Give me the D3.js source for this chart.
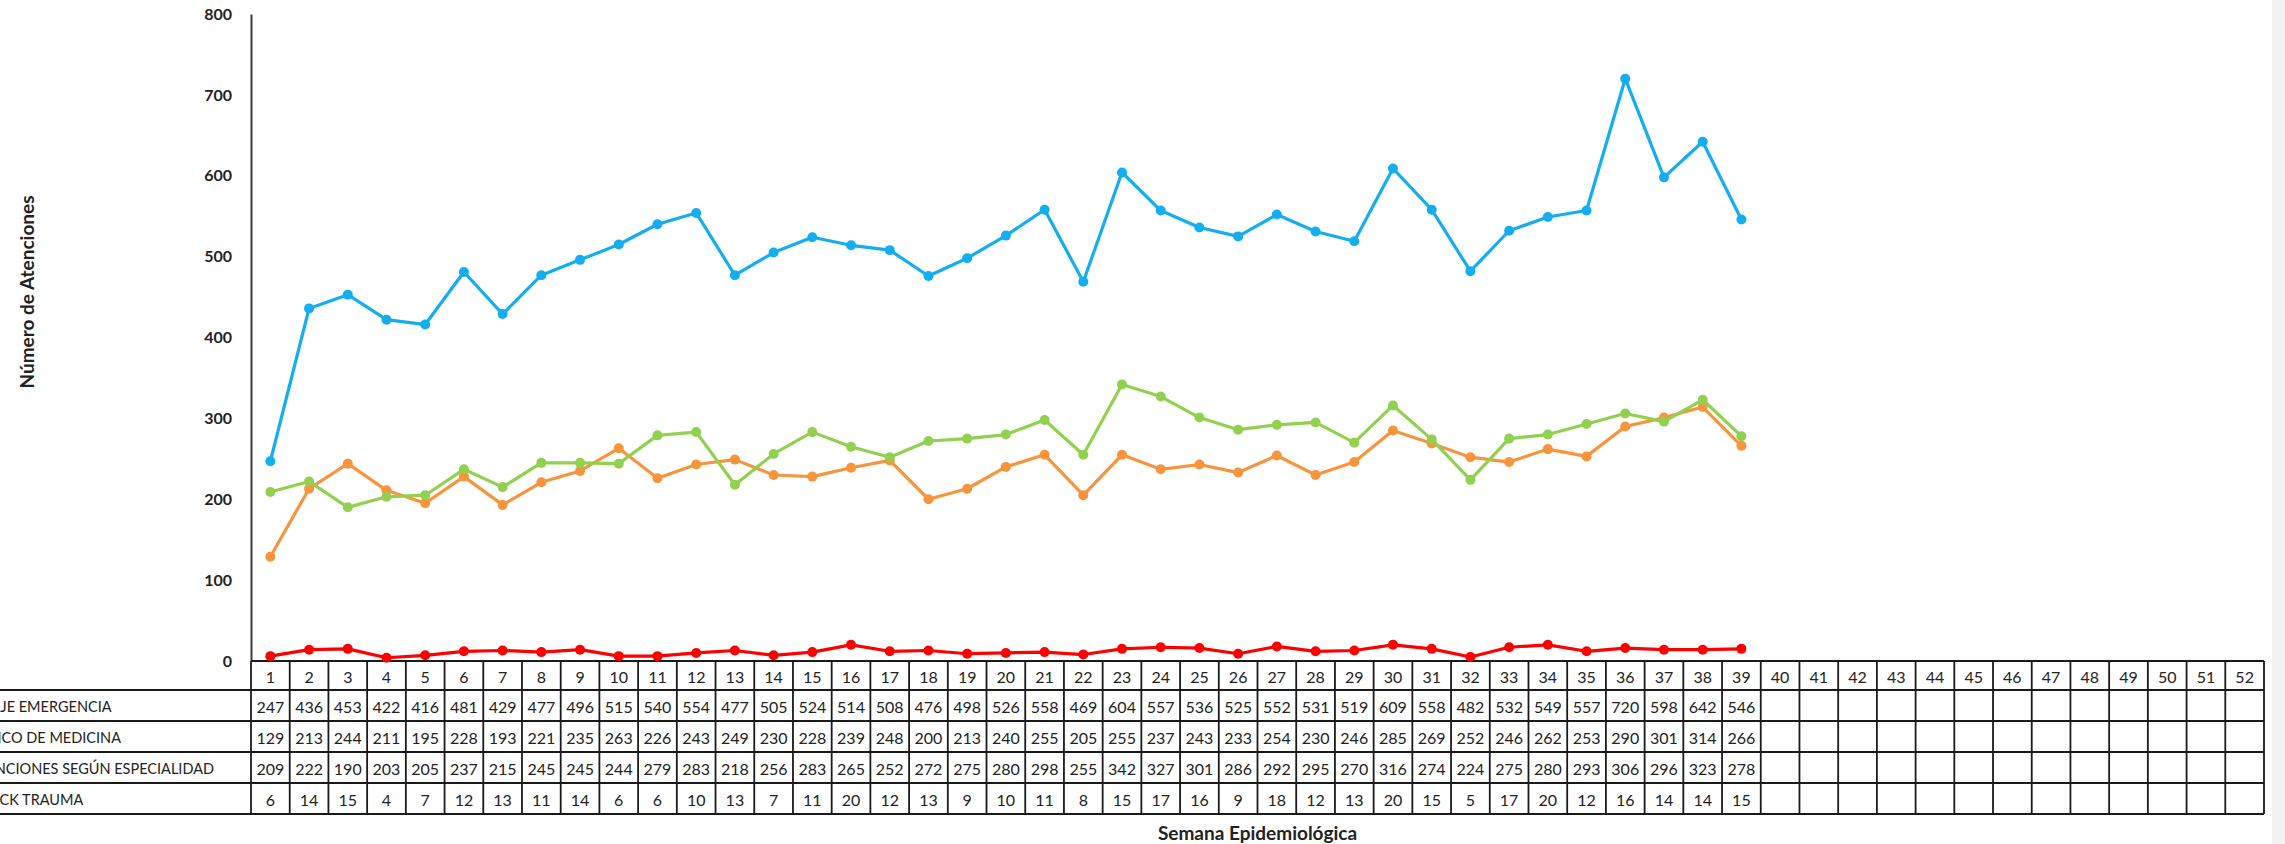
<!DOCTYPE html>
<html>
<head>
<meta charset="utf-8">
<script src="https://cdn.jsdelivr.net/npm/d3@7"></script>
<style>
  body { margin: 0; background: #fff; }
  svg text { font-family: Lato, "Open Sans", sans-serif; }
</style>
</head>
<body>
<div id="chart"></div>
<script>
// weeks shown in the data table (1..52), only 39 have data
var weeks = [1,2,3,4,5,6,7,8,9,10,11,12,13,14,15,16,17,18,19,20,21,22,23,24,25,26,
             27,28,29,30,31,32,33,34,35,36,37,38,39,40,41,42,43,44,45,46,47,48,49,50,51,52];

var yTicks = [0, 100, 200, 300, 400, 500, 600, 700, 800];

var seriesNames = ["TRIAJE EMERGENCIA", "TÓPICO DE MEDICINA",
                   "ATENCIONES SEGÚN  ESPECIALIDAD", "SHOCK TRAUMA"];

var emergencia = [247,436,453,422,416,481,429,477,496,515,540,554,477,505,524,514,508,476,498,526,
                  558,469,604,557,536,525,552,531,519,609,558,482,532,549,557,720,598,642,546];
var medicina = [129,213,244,211,195,228,193,221,235,263,226,243,249,230,228,239,248,200,213,240,
                255,205,255,237,243,233,254,230,246,285,269,252,246,262,253,290,301,314,266];
var especialidad = [209,222,190,203,205,237,215,245,245,244,279,283,218,256,283,265,252,272,275,280,
                    298,255,342,327,301,286,292,295,270,316,274,224,275,280,293,306,296,323,278];
var trauma = [6,14,15,4,7,12,13,11,14,6,6,10,13,7,11,20,12,13,9,10,
              11,8,15,17,16,9,18,12,13,20,15,5,17,20,12,16,14,14,15];

var allSeries = [emergencia, medicina, especialidad, trauma];
var colors = ["#14aef0", "#f7943c", "#92d050", "#ff0000"];

var W = 2285, H = 844;
var plotLeft = 251, plotRight = 2264, plotTop = 14, axisY = 661;
var rowH = 31, headerH = 29;

var svg = d3.select("#chart").append("svg")
    .attr("width", W)
    .attr("height", H);

// light strip at the right edge
svg.append("rect")
    .attr("x", 2272).attr("y", 0)
    .attr("width", W - 2272).attr("height", H)
    .attr("fill", "#f2f2f2");

// scales
var x = d3.scaleBand()
    .domain(weeks)
    .range([plotLeft, plotRight])
    .padding(0);
var bw = x.bandwidth();

var y = d3.scaleLinear()
    .domain([0, 800])
    .range([axisY, plotTop]);

// Y axis
var yAxis = svg.append("g")
    .attr("transform", "translate(" + plotLeft + ",0)")
    .call(d3.axisLeft(y).tickValues(yTicks).tickSize(0).tickSizeOuter(0).tickPadding(19));
yAxis.select(".domain").attr("stroke", "#3a3a3a").attr("stroke-width", 2);
yAxis.selectAll("text")
    .style("font-size", "16px")
    .style("font-weight", "bold")
    .attr("fill", "#222");

svg.append("text")
    .attr("transform", "translate(26,292) rotate(-90)")
    .attr("text-anchor", "middle")
    .attr("dominant-baseline", "central")
    .style("font-size", "19px")
    .style("font-weight", "bold")
    .attr("fill", "#222")
    .text("Número de Atenciones");

// data table
var table = svg.append("g");
var tableBottom = axisY + headerH + rowH * 4;

// horizontal lines
table.append("line")
    .attr("x1", plotLeft).attr("x2", plotRight)
    .attr("y1", axisY).attr("y2", axisY);
[0, 1, 2, 3, 4].forEach(function (r) {
    var yy = axisY + headerH + r * rowH;
    table.append("line")
        .attr("x1", 0).attr("x2", plotRight)
        .attr("y1", yy).attr("y2", yy);
});
// vertical lines
table.selectAll(null)
    .data(weeks.concat([null]))
    .enter()
    .append("line")
    .attr("x1", function (d, i) { return plotLeft + i * bw; })
    .attr("x2", function (d, i) { return plotLeft + i * bw; })
    .attr("y1", axisY)
    .attr("y2", tableBottom);
table.selectAll("line")
    .attr("stroke", "#1a1a1a")
    .attr("stroke-width", 1.8);

// header numbers
table.selectAll(null)
    .data(weeks)
    .enter()
    .append("text")
    .attr("x", function (d) { return x(d) + bw / 2; })
    .attr("y", axisY + headerH / 2 + 1)
    .attr("text-anchor", "middle")
    .attr("dominant-baseline", "central")
    .style("font-size", "16px")
    .attr("fill", "#222")
    .text(function (d) { return d; });

// row values
allSeries.forEach(function (vals, r) {
    var cy = axisY + headerH + r * rowH + rowH / 2 + 1;
    table.selectAll(null)
        .data(vals)
        .enter()
        .append("text")
        .attr("x", function (d, i) { return x(weeks[i]) + bw / 2; })
        .attr("y", cy)
        .attr("text-anchor", "middle")
        .attr("dominant-baseline", "central")
        .style("font-size", "16px")
        .attr("fill", "#222")
        .text(function (d) { return d; });
});

// row labels (left aligned, cut off at the page edge)
var labels = table.selectAll(null)
    .data(seriesNames)
    .enter()
    .append("text")
    .attr("y", function (d, r) { return axisY + headerH + r * rowH + rowH / 2 + 1; })
    .attr("dominant-baseline", "central")
    .style("font-size", "14.5px")
    .attr("fill", "#222")
    .text(function (d) { return d; });
var longest = d3.max(labels.nodes(), function (n) { return n.getComputedTextLength(); });
labels.attr("x", 214 - longest);

// series lines and markers
var line = d3.line()
    .x(function (d, i) { return x(weeks[i]) + bw / 2; })
    .y(function (d) { return y(d); });

allSeries.forEach(function (vals, s) {
    svg.append("path")
        .datum(vals)
        .attr("fill", "none")
        .attr("stroke", colors[s])
        .attr("stroke-width", 3.2)
        .attr("stroke-linejoin", "round")
        .attr("d", line);
    svg.append("g")
        .selectAll(null)
        .data(vals)
        .enter()
        .append("circle")
        .attr("cx", function (d, i) { return x(weeks[i]) + bw / 2; })
        .attr("cy", function (d) { return y(d); })
        .attr("r", 5)
        .attr("fill", colors[s]);
});

// X title
svg.append("text")
    .attr("x", (plotLeft + plotRight) / 2)
    .attr("y", 832)
    .attr("text-anchor", "middle")
    .attr("dominant-baseline", "central")
    .style("font-size", "19px")
    .style("font-weight", "bold")
    .attr("fill", "#222")
    .text("Semana Epidemiológica");
</script>
</body>
</html>
